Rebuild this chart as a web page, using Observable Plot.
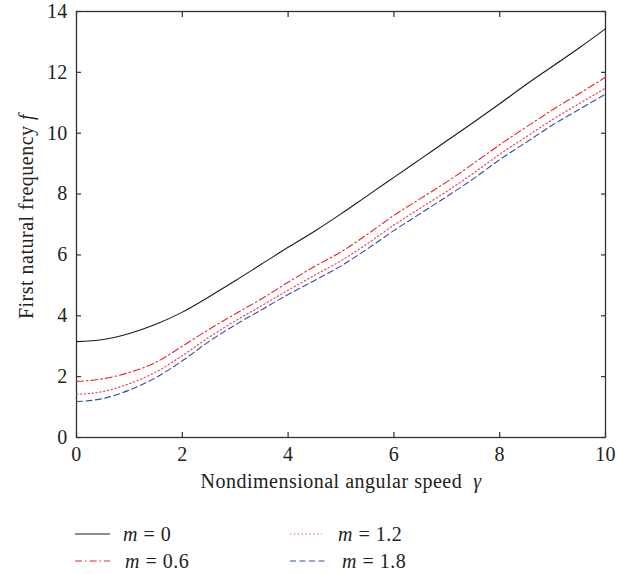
<!DOCTYPE html>
<html>
<head>
<meta charset="utf-8">
<script src="https://cdn.jsdelivr.net/npm/d3@7"></script>
<script src="https://cdn.jsdelivr.net/npm/@observablehq/plot@0.6"></script>
<style>
  body { margin: 0; background: #fff; font-family: "Liberation Serif", "DejaVu Serif", serif; }
  #wrap { position: relative; width: 631px; height: 574px; overflow: hidden; }
  #chart { position: absolute; left: 0; top: 0; }
  .leg { position: absolute; height: 24px; display: flex; align-items: center; font-size: 20px; line-height: 24px; color: #222; white-space: pre; letter-spacing: 0.5px; }
  .leg svg { display: block; }
  .leg i { font-style: italic; }
</style>
</head>
<body>
<div id="wrap"><div id="chart"></div><div id="legend"></div></div>
<script>
const gamma = [0,0.5,1,1.5,2,2.5,3,3.5,4,4.5,5,5.5,6,6.5,7,7.5,8,8.5,9,9.5,10];
const f_m0   = [3.15,3.22,3.42,3.72,4.12,4.62,5.15,5.70,6.25,6.78,7.35,7.95,8.55,9.15,9.75,10.35,10.97,11.60,12.20,12.80,13.43];
const f_m06  = [1.84,1.93,2.14,2.47,3.00,3.55,4.06,4.56,5.10,5.62,6.10,6.68,7.30,7.85,8.40,9.00,9.62,10.20,10.77,11.30,11.84];
const f_m12  = [1.42,1.51,1.77,2.15,2.69,3.29,3.83,4.33,4.84,5.33,5.81,6.37,6.98,7.54,8.09,8.68,9.31,9.88,10.45,10.97,11.48];
const f_m18  = [1.18,1.28,1.56,1.97,2.52,3.15,3.70,4.20,4.70,5.16,5.64,6.20,6.80,7.36,7.92,8.50,9.13,9.70,10.27,10.78,11.28];
const mValues = ["0","0.6","1.2","1.8"];
const xTicks = [0,2,4,6,8,10];
const yTicks = [0,2,4,6,8,10,12,14];

const styles = [
  {stroke:"#1a1a1a", dash:null, width:1.1},
  {stroke:"#e8232a", dash:"7,3,1.5,3", width:1.1},
  {stroke:"#f0484e", dash:"1.3,2.6", width:1.2},
  {stroke:"#2f4fa6", dash:"6,3.5", width:1.1}
];
const allSeries = [f_m0, f_m06, f_m12, f_m18];
const data = allSeries.flatMap((arr, i) => arr.map((v, j) => ({g: gamma[j], f: v, s: i})));

const font = "Liberation Serif, DejaVu Serif, serif";
const blank = () => "";
const chart = Plot.plot({
  width: 631,
  height: 510,
  marginLeft: 76,
  marginRight: 26,
  marginTop: 11,
  marginBottom: 73,
  style: {fontFamily: font, fontSize: "20px", color: "#222", background: "#fff", letterSpacing: "0.3px"},
  x: {domain: [0, 10], ticks: xTicks},
  y: {domain: [0, 14], ticks: yTicks},
  marks: [
    Plot.frame({stroke: "#333", strokeWidth: 1.3}),
    Plot.axisX(xTicks, {anchor: "bottom", tickSize: 0, tickPadding: 9, fontSize: 20, label: null}),
    Plot.axisY(yTicks, {anchor: "left", tickSize: 0, tickPadding: 9, fontSize: 20, label: null}),
    Plot.axisX(xTicks, {anchor: "bottom", tickSize: -5, tickFormat: blank, label: null, stroke: "#333", strokeWidth: 1.2}),
    Plot.axisX(xTicks, {anchor: "top", tickSize: -5, tickFormat: blank, label: null, stroke: "#333", strokeWidth: 1.2}),
    Plot.axisY(yTicks, {anchor: "left", tickSize: -5, tickFormat: blank, label: null, stroke: "#333", strokeWidth: 1.2}),
    Plot.axisY(yTicks, {anchor: "right", tickSize: -5, tickFormat: blank, label: null, stroke: "#333", strokeWidth: 1.2}),
    ...[0,1,2,3].map(i => Plot.line(data.filter(d => d.s === i), {
      x: "g", y: "f", stroke: styles[i].stroke, strokeWidth: styles[i].width,
      strokeDasharray: styles[i].dash, curve: "monotone-x"
    })),
    Plot.text(["Nondimensional angular speed  "], {frameAnchor: "bottom", dy: 50, fontSize: 20, text: d => d, className: "xlab"}),
    Plot.text(["First natural frequency "], {frameAnchor: "left", dx: -50, dy: -8, rotate: -90, textAnchor: "middle", fontSize: 20, text: d => d, className: "ylab"})
  ]
});
document.getElementById("chart").appendChild(chart);
d3.select(chart).selectAll(".xlab text, .ylab text").style("letter-spacing", "0.5px");
d3.select(chart).select(".xlab text").append("tspan").attr("font-style", "italic").text("γ");
d3.select(chart).select(".ylab text").append("tspan").attr("font-style", "italic").text("f");

// legend
const legPos = [
  {left: 75, top: 522, w: 35, gap: 13},
  {left: 75, top: 549, w: 35, gap: 15},
  {left: 290, top: 522, w: 32, gap: 16},
  {left: 290, top: 549, w: 35, gap: 17}
];
const legend = document.getElementById("legend");
mValues.forEach((m, i) => {
  const div = document.createElement("div");
  div.className = "leg";
  const p = legPos[i];
  div.style.left = p.left + "px";
  div.style.top = p.top + "px";
  const s = styles[i];
  div.innerHTML = `<svg width="${p.w}" height="24" style="margin-right:${p.gap}px"><line x1="0" x2="${p.w}" y1="12" y2="12" stroke="${s.stroke}" stroke-width="${s.width}" ${s.dash ? `stroke-dasharray="${s.dash}"` : ""}/></svg><span><i>m</i> = ${m}</span>`;
  legend.appendChild(div);
});
</script>
</body>
</html>
